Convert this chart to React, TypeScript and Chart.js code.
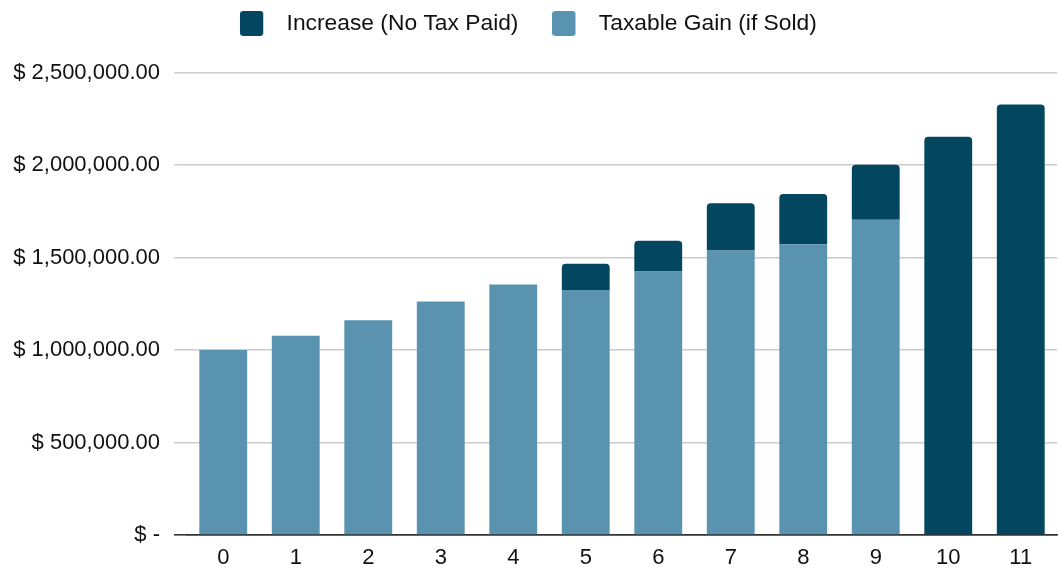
import React, { useEffect, useRef } from "react";
import { Chart, registerables } from "chart.js";

Chart.register(...registerables);

const categories = ["0", "1", "2", "3", "4", "5", "6", "7", "8", "9", "10", "11"];
const taxableGain = [1000000, 1078000, 1162000, 1263000, 1355000, 1325000, 1425000, 1539000, 1572000, 1705000, null, null];
const increase = [null, null, null, null, null, 142000, 166000, 255000, 273000, 297000, 2154000, 2329000];
const seriesNames = ["Increase (No Tax Paid)", "Taxable Gain (if Sold)"];
const yMax = 2500000;
const yStep = 500000;

const DARK = "#02465F";
const LIGHT = "#5993B0";
const TEXT = "#111111";
const FONT = "'Liberation Sans', Arial, sans-serif";

function makeBox(color: string): HTMLCanvasElement {
  const c = document.createElement("canvas");
  c.width = 35;
  c.height = 25;
  const g = c.getContext("2d")!;
  g.fillStyle = color;
  g.beginPath();
  if ((g as any).roundRect) (g as any).roundRect(0, 0, 23, 25, 3);
  else g.rect(0, 0, 23, 25);
  g.fill();
  return c;
}

function fmt(v: number): string {
  if (v === 0) return "$ -";
  return "$ " + v.toLocaleString("en-US", { minimumFractionDigits: 2, maximumFractionDigits: 2 });
}

const legendSpacer = {
  id: "legendSpacer",
  afterInit(chart: any) {
    const lg = chart.legend;
    if (lg && !lg.__patched) {
      const orig = lg.fit.bind(lg);
      lg.fit = function () {
        orig();
        this.height += 28;
      };
      lg.__patched = true;
    }
  },
};

export default function App() {
  const ref = useRef<HTMLCanvasElement | null>(null);
  useEffect(() => {
    document.body.style.margin = "0";
    const boxes: Record<string, HTMLCanvasElement> = {
      [seriesNames[0]]: makeBox(DARK),
      [seriesNames[1]]: makeBox(LIGHT),
    };
    const chart = new Chart(ref.current!, {
      type: "bar",
      plugins: [legendSpacer],
      data: {
        labels: categories,
        datasets: [
          {
            label: seriesNames[1],
            data: taxableGain,
            backgroundColor: LIGHT,
            borderWidth: 0,
          },
          {
            label: seriesNames[0],
            data: increase,
            backgroundColor: DARK,
            borderWidth: 0,
            borderRadius: { topLeft: 4, topRight: 4, bottomLeft: 0, bottomRight: 0 },
            borderSkipped: false,
          },
        ],
      },
      options: {
        responsive: true,
        maintainAspectRatio: false,
        animation: false,
        layout: { padding: { top: -22, right: 2, left: 0, bottom: 0 } },
        datasets: { bar: { categoryPercentage: 1, barPercentage: 0.66 } },
        plugins: {
          tooltip: { enabled: false },
          legend: {
            display: true,
            position: "top",
            reverse: true,
            labels: {
              usePointStyle: true,
              pointStyleWidth: 35,
              padding: 34,
              color: TEXT,
              font: { family: FONT, size: 22.8 },
              generateLabels: (ch: any) => {
                const items = Chart.defaults.plugins.legend.labels.generateLabels(ch);
                items.forEach((it: any) => {
                  it.pointStyle = boxes[it.text];
                  it.lineWidth = 0;
                });
                return items;
              },
            },
          },
        },
        scales: {
          x: {
            stacked: true,
            z: 1,
            grid: { display: false, drawTicks: false },
            border: { display: true, color: "#333", width: 1.6 },
            ticks: { color: TEXT, font: { family: FONT, size: 22 }, padding: 10, maxRotation: 0 },
            afterFit: (s: any) => {
              s.height = 36;
            },
          },
          y: {
            stacked: true,
            min: 0,
            max: yMax,
            border: { display: false },
            grid: {
              color: (c: any) => (c.tick && c.tick.value === 0 ? "#333" : "#cccccc"),
              lineWidth: (c: any) => (c.tick && c.tick.value === 0 ? 1.6 : 1.5),
              tickLength: 13,
              drawTicks: true,
            },
            ticks: {
              stepSize: yStep,
              color: TEXT,
              padding: 14,
              font: { family: FONT, size: 22 },
              callback: (v: any) => fmt(Number(v)),
            },
            afterFit: (s: any) => {
              s.width = 187;
            },
          },
        },
      },
    });
    return () => chart.destroy();
  }, []);
  return (
    <div style={{ width: 1059, height: 571, position: "relative" }}>
      <canvas ref={ref} />
    </div>
  );
}
